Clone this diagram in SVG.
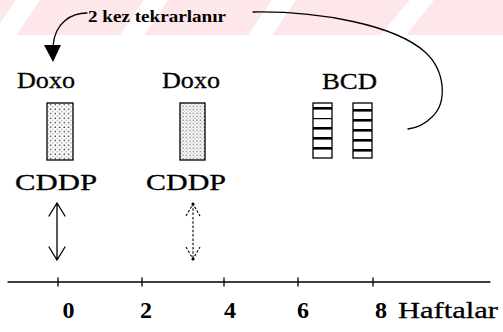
<svg xmlns="http://www.w3.org/2000/svg" width="503" height="332" viewBox="0 0 503 332">
  <style>
    text { font-family: 'Liberation Serif', 'DejaVu Serif', serif; fill: #000; }
    .lbl { font-size: 23px; stroke: #000; stroke-width: 0.3; }
    .num { font-size: 24px; font-weight: bold; }
    .note { font-size: 16px; font-weight: bold; }
    .ln { fill: none; stroke: #000; stroke-width: 1.3; stroke-linecap: round; }
    .dash { fill: none; stroke: #000; stroke-width: 1.1; stroke-dasharray: 2.5 1.8; }
    .box { stroke: #000; stroke-width: 1.3; }
    .bar { fill: #000; }
  </style>
  <defs>
    <pattern id="dots" width="4.5" height="4.5" patternUnits="userSpaceOnUse">
      <rect width="4.5" height="4.5" fill="#fff"/>
      <circle cx="1.2" cy="1.2" r="0.75" fill="#000"/>
      <circle cx="3.4" cy="3.4" r="0.55" fill="#333"/>
    </pattern>
    <pattern id="dotsFine" width="3.5" height="3.5" patternUnits="userSpaceOnUse">
      <rect width="3.5" height="3.5" fill="#fff"/>
      <circle cx="1" cy="1" r="0.6" fill="#111"/>
      <circle cx="2.7" cy="2.7" r="0.45" fill="#444"/>
    </pattern>
  </defs>

  <!-- page background and faint top band -->
  <rect width="503" height="332" fill="#fff"/>
  <g id="band">
    <rect x="0" y="0" width="503" height="35" fill="#fde7eb"/>
    <polygon points="16,0 40,0 16,35 -8,35" fill="#fff"/>
    <polygon points="144,0 168,0 144,35 120,35" fill="#fff"/>
    <polygon points="272,0 296,0 272,35 248,35" fill="#fff"/>
    <polygon points="410,0 434,0 406,35 380,35" fill="#fff"/>
  </g>

  <!-- repeat note -->
  <g id="repeat-note">
    <text class="note" x="88" y="22" textLength="138" lengthAdjust="spacingAndGlyphs">2 kez tekrarlanır</text>
  </g>

  <!-- cycle 1: Doxo + CDDP at week 0 -->
  <g id="cycle1">
    <text class="lbl" x="17" y="88" textLength="58" lengthAdjust="spacingAndGlyphs">Doxo</text>
    <rect class="box" x="47" y="103" width="26" height="57" fill="url(#dots)"/>
    <text class="lbl" x="15" y="190" textLength="82" lengthAdjust="spacingAndGlyphs">CDDP</text>
  </g>

  <!-- cycle 2: Doxo + CDDP -->
  <g id="cycle2">
    <text class="lbl" x="162" y="88" textLength="58" lengthAdjust="spacingAndGlyphs">Doxo</text>
    <rect class="box" x="180" y="103" width="25" height="57" fill="url(#dotsFine)"/>
    <text class="lbl" x="146" y="190" textLength="80" lengthAdjust="spacingAndGlyphs">CDDP</text>
  </g>

  <!-- BCD block -->
  <g id="bcd">
    <text class="lbl" x="322" y="89" textLength="55" lengthAdjust="spacingAndGlyphs">BCD</text>
    <rect class="box" x="313" y="103" width="19" height="55" fill="#fff"/>
    <rect class="bar" x="313" y="107" width="19" height="2.6"/>
    <rect class="bar" x="313" y="118" width="19" height="1.2"/>
    <rect class="bar" x="313" y="127" width="19" height="2.6"/>
    <rect class="bar" x="313" y="137" width="19" height="2.6"/>
    <rect class="bar" x="313" y="147" width="19" height="2.6"/>
    <rect class="box" x="353" y="103" width="19" height="55" fill="#fff"/>
    <rect class="bar" x="353" y="109" width="19" height="2.6"/>
    <rect class="bar" x="353" y="119" width="19" height="2.6"/>
    <rect class="bar" x="353" y="129" width="19" height="2.6"/>
    <rect class="bar" x="353" y="139" width="19" height="2.6"/>
    <rect class="bar" x="353" y="149" width="19" height="2.6"/>
  </g>

  <!-- time axis -->
  <g id="axis">
    <path class="ln" d="M8,282 L490,282" stroke-width="1.1"/>
    <path class="ln" d="M58,278 V286 M142,278 V286 M224,278 V286 M298,278 V286 M373,278 V286" stroke-width="1"/>
    <text class="num" x="68.5" y="318" text-anchor="middle">0</text>
    <text class="num" x="146" y="318" text-anchor="middle">2</text>
    <text class="num" x="230" y="318" text-anchor="middle">4</text>
    <text class="num" x="303" y="318" text-anchor="middle">6</text>
    <text class="num" x="381" y="318" text-anchor="middle">8</text>
    <text class="lbl" x="398" y="318" font-size="24" textLength="100" lengthAdjust="spacingAndGlyphs">Haftalar</text>
  </g>

  <!-- connectors -->
  <g id="connectors">
    <!-- loop back from BCD to the first cycle -->
    <path class="ln" d="M253,12 C320,11 395,25 425,52 C445,70 448,102 432,117 C425,124 416,128 408,129"/>
    <path class="ln" d="M87,13 C72,13 55,22 53,46"/>
    <polygon points="44,45 61,45 53,62" fill="#000"/>

    <!-- double arrow under cycle 1 -->
    <path class="ln" d="M57,203 V260 M49,216 L57,203 L65,216 M49,247 L57,260 L65,247" stroke-width="1"/>

    <!-- dashed double arrow under cycle 2 -->
    <path class="dash" d="M193,204 V259 M186,216 L193,204 L200,216 M186,247 L193,259 L200,247"/>
    <circle cx="193" cy="204" r="1.6" fill="#000"/>
    <circle cx="193" cy="259" r="1.6" fill="#000"/>
  </g>
</svg>
